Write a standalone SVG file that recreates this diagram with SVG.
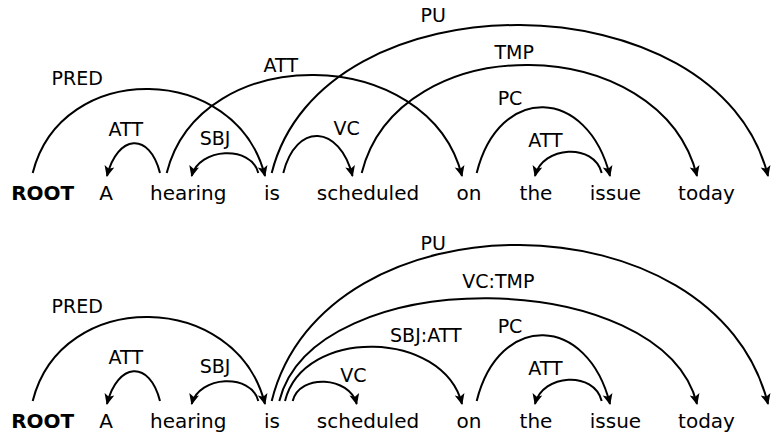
<svg xmlns="http://www.w3.org/2000/svg" width="771" height="433" viewBox="0 0 771 433">
<style>
.w{font-family:"DejaVu Sans",sans-serif;font-size:20px;fill:#000;text-anchor:middle}
.b{font-weight:bold}
.l{font-family:"DejaVu Sans",sans-serif;font-size:19px;fill:#000;text-anchor:middle}
.e{fill:none;stroke:#000;stroke-width:2;marker-end:url(#ah)}
</style>
<defs>
<marker id="ah" markerUnits="userSpaceOnUse" markerWidth="16" markerHeight="16" viewBox="-13 -8 16 16" refX="0" refY="0" orient="auto">
<path d="M1,0 L-10,-5 L-7.5,0 L-10,5 Z" fill="#000"/>
</marker>
</defs>
<rect width="771" height="433" fill="#fff"/>
<g id="top-words">
<g id="t-root"><text class="w b" x="42.7" y="200">ROOT</text></g>
<g id="t-a"><text class="w" x="106" y="200">A</text></g>
<g id="t-hearing"><text class="w" x="188.3" y="200">hearing</text></g>
<g id="t-is"><text class="w" x="272" y="200">is</text></g>
<g id="t-scheduled"><text class="w" x="368" y="200">scheduled</text></g>
<g id="t-on"><text class="w" x="469" y="200">on</text></g>
<g id="t-the"><text class="w" x="536" y="200">the</text></g>
<g id="t-issue"><text class="w" x="615.5" y="200">issue</text></g>
<g id="t-today"><text class="w" x="706.5" y="200">today</text></g>
</g>
<g id="bottom-words">
<g id="b-root"><text class="w b" x="42.7" y="428">ROOT</text></g>
<g id="b-a"><text class="w" x="106" y="428">A</text></g>
<g id="b-hearing"><text class="w" x="188.3" y="428">hearing</text></g>
<g id="b-is"><text class="w" x="272" y="428">is</text></g>
<g id="b-scheduled"><text class="w" x="368" y="428">scheduled</text></g>
<g id="b-on"><text class="w" x="469" y="428">on</text></g>
<g id="b-the"><text class="w" x="536" y="428">the</text></g>
<g id="b-issue"><text class="w" x="615.5" y="428">issue</text></g>
<g id="b-today"><text class="w" x="706.5" y="428">today</text></g>
</g>
<g id="top-connectors">
<path class="e" d="M32.7 173 C61.2 59, 236.5 62, 265 176"/>
<path class="e" d="M160 173 C149.6 131.4, 117.4 134.4, 107 176"/>
<path class="e" d="M166.7 173 C199.9 40.3, 428.8 43.3, 462 176"/>
<path class="e" d="M258.3 173 C251.2 144.7, 198.8 147.7, 191.7 176"/>
<path class="e" d="M271.7 173 C321.5 -26.3, 718.2 -23.3, 768 176"/>
<path class="e" d="M283.3 173 C296.1 121.7, 339.7 124.7, 352.5 176"/>
<path class="e" d="M361.7 173 C398.2 27, 660.5 30, 697 176"/>
<path class="e" d="M476.7 173 C499.1 83.4, 587.6 86.4, 610 176"/>
<path class="e" d="M601.7 173 C594.1 142.6, 542.6 145.6, 535 176"/>
<text class="l" x="77.2" y="85">PRED</text>
<text class="l" x="125.8" y="136">ATT</text>
<text class="l" x="215" y="145">SBJ</text>
<text class="l" x="280.8" y="71.7">ATT</text>
<text class="l" x="346.7" y="135">VC</text>
<text class="l" x="433.3" y="21.7">PU</text>
<text class="l" x="514.2" y="59.3">TMP</text>
<text class="l" x="510" y="105">PC</text>
<text class="l" x="545.5" y="146.7">ATT</text>
</g>
<g id="bottom-connectors">
<path class="e" d="M32.7 401 C61.2 287, 236.5 290, 265 404"/>
<path class="e" d="M160 401 C149.6 359.4, 117.4 362.4, 107 404"/>
<path class="e" d="M258.3 401 C251.2 372.7, 198.8 375.7, 191.7 404"/>
<path class="e" d="M271.7 401 C324.2 191, 715.5 194, 768 404"/>
<path class="e" d="M279.3 401 C314 262.1, 662.3 265.1, 697 404"/>
<path class="e" d="M285 401 C303.6 326.6, 443.4 329.6, 462 404"/>
<path class="e" d="M292.7 401 C299.6 373.3, 349.8 376.3, 356.7 404"/>
<path class="e" d="M476.7 401 C499.1 311.4, 587.6 314.4, 610 404"/>
<path class="e" d="M601.7 401 C594.1 370.6, 542.6 373.6, 535 404"/>
<text class="l" x="77.2" y="313">PRED</text>
<text class="l" x="125.8" y="364">ATT</text>
<text class="l" x="215" y="373">SBJ</text>
<text class="l" x="353.3" y="381.7">VC</text>
<text class="l" x="425.8" y="341.7">SBJ:ATT</text>
<text class="l" x="498.3" y="288.3">VC:TMP</text>
<text class="l" x="433.3" y="250">PU</text>
<text class="l" x="510" y="333">PC</text>
<text class="l" x="545.5" y="374.7">ATT</text>
</g>
</svg>
